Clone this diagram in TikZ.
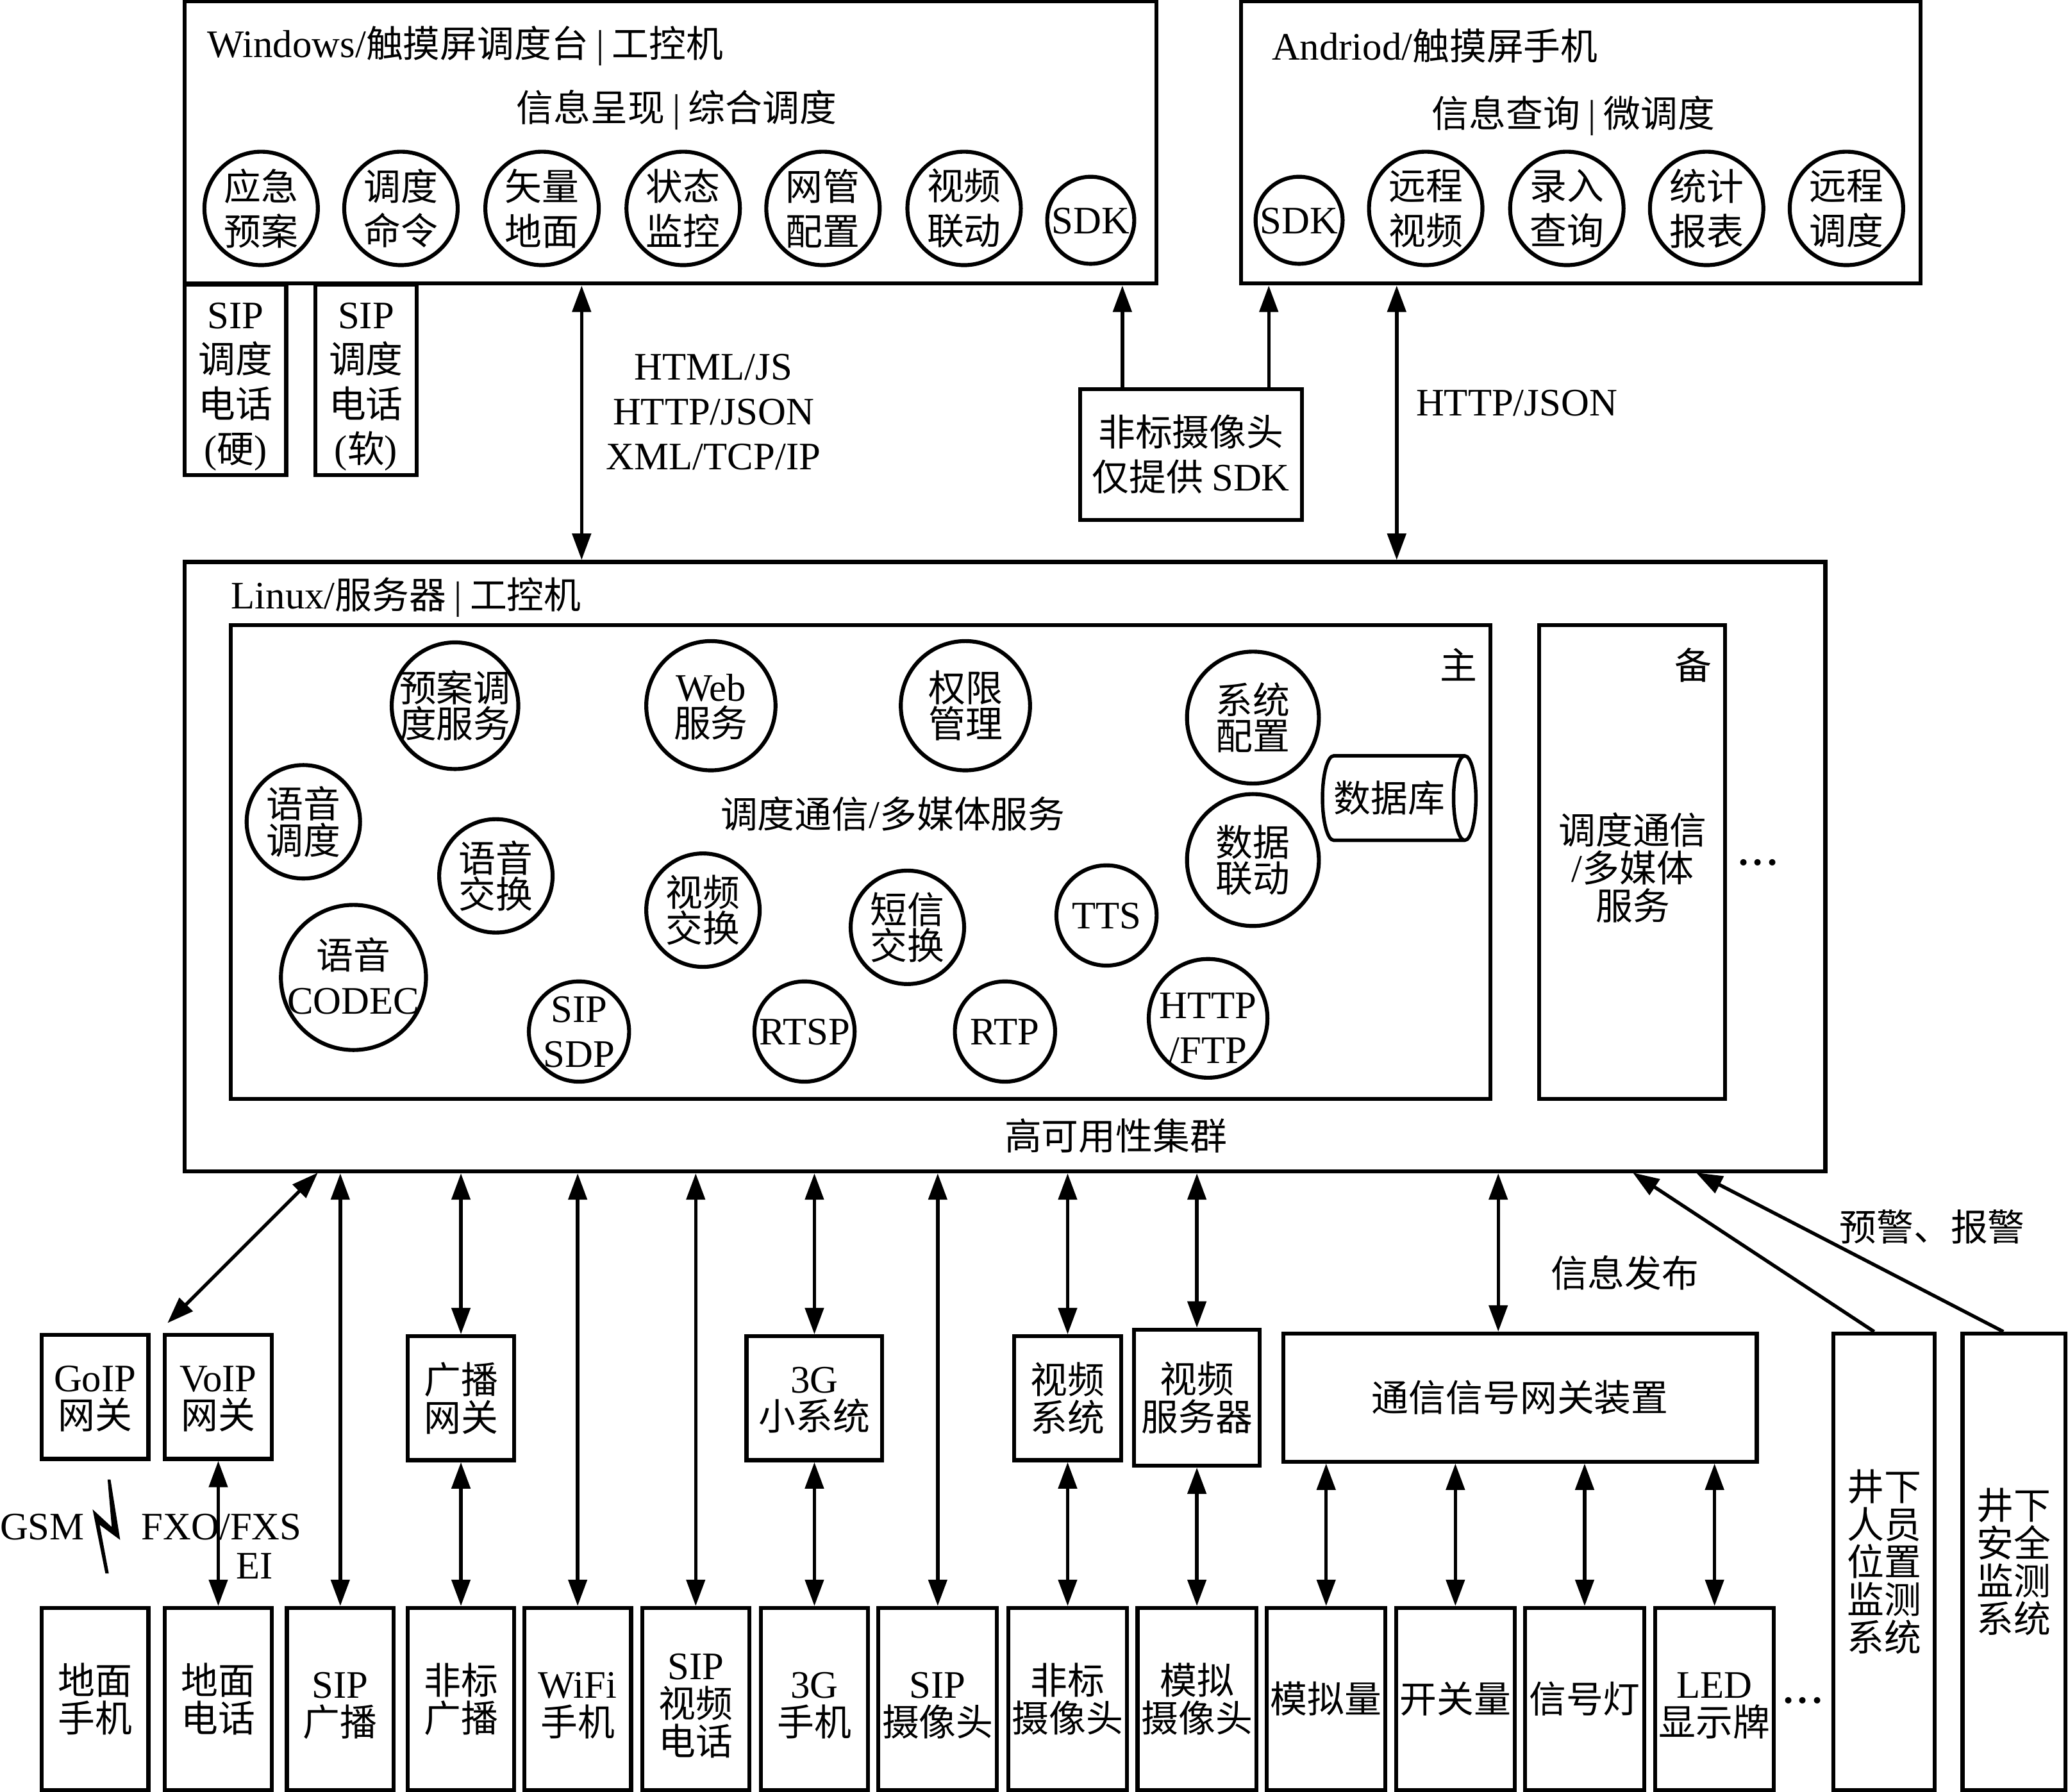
\documentclass[tikz,border=0pt]{standalone}
\usepackage{fontspec}
\setmainfont{Noto Sans CJK SC}
\newfontfamily\enfont[Scale=1.05]{Liberation Serif}
\newcommand{\en}[1]{\vphantom{国}{\enfont #1}}
\newcommand{\vbar}{\hspace{3.4pt}{\enfont|}\hspace{3.4pt}}
\newcommand{\lowered}{\rule{0pt}{17pt}}
\newcommand{\moredots}{{\enfont\bfseries .\kern2pt.\kern2pt.}}
\usetikzlibrary{
    arrows.meta,
    positioning,
    shapes.geometric,
    calc
}
\lineskiplimit=-20pt
\normallineskiplimit=-20pt

\begin{document}
\begin{tikzpicture}[
    x=0.2mm,
    y=-0.2mm,
    every node/.style={
        inner sep=0pt,
        align=center,
        font=\fontsize{16}{16.3}\selectfont
    },
    panel/.style={
        draw,
        line width=1.7pt,
        rectangle
    },
    devbox/.style={
        panel,
        minimum width=16.2mm,
        minimum height=27.6mm
    },
    gatebox/.style={
        panel,
        minimum width=16.2mm,
        minimum height=18.8mm
    },
    func/.style={
        draw,
        line width=1.7pt,
        circle,
        minimum size=17.2mm,
        font=\fontsize{16}{19.3}\selectfont
    },
    svcfunc/.style={
        func,
        font=\fontsize{16}{15.5}\selectfont
    },
    loose/.style={
        font=\fontsize{16}{19.3}\selectfont
    },
    bothway/.style={
        {Triangle[length=4mm,width=2.8mm]}-{Triangle[length=4mm,width=2.8mm]},
        line width=1.5pt
    },
    oneway/.style={
        -{Triangle[length=4mm,width=2.8mm]},
        line width=1.5pt
    }
]
\useasboundingbox (0,0) rectangle (1568,1358.5);

% upper consoles
\node[panel, minimum width=147.4mm, minimum height=42.8mm] (windows) at (508.5,108) {};
\node[panel, minimum width=103mm, minimum height=42.8mm] (android) at (1198.5,108) {};
\node[anchor=west] (wintitle) at (157,35) {\en{Windows/}触摸屏调度台\vbar 工控机};
\node (winsub) at (513,83.5) {信息呈现\vbar 综合调度};
\node[anchor=west] (andtitle) at (964,35) {\en{Andriod/}触摸屏手机};
\node (andsub) at (1193,87.5) {信息查询\vbar 微调度};

\node[func] (plan) at (198,158) {应急\\预案};
\node[func] (order) at (304,158) {调度\\命令};
\node[func] (vector) at (411,158) {矢量\\地面};
\node[func] (state) at (518,158) {状态\\监控};
\node[func] (netcfg) at (624,158) {网管\\配置};
\node[func] (link) at (731,158) {视频\\联动};
\node[func, minimum size=13.2mm] (winsdk) at (827,167) {\en{SDK}};
\node[func, minimum size=13.2mm] (andsdk) at (985,167) {\en{SDK}};
\node[func] (remote) at (1081,158) {远程\\视频};
\node[func] (query) at (1188,158) {录入\\查询};
\node[func] (report) at (1294,158) {统计\\报表};
\node[func] (micro) at (1400,158) {远程\\调度};

\node[panel, loose, minimum width=15.4mm, minimum height=28.8mm] (hardsip) at (178.5,288) {\lowered\en{SIP}\\调度\\电话\\\en{(}硬\en{)}};
\node[panel, loose, minimum width=15.4mm, minimum height=28.8mm] (softsip) at (277.5,288) {\lowered\en{SIP}\\调度\\电话\\\en{(}软\en{)}};
\node[panel, loose, minimum width=33.6mm, minimum height=19.8mm] (camsdk) at (903,344.5) {非标摄像头\\仅提供 \en{SDK}};

\node[loose] (weblabel) at (541,312) {\en{HTML/JS}\\\en{HTTP/JSON}\\\en{XML/TCP/IP}};
\node (jsonlabel) at (1150,305) {\en{HTTP/JSON}};

% server
\node[panel, minimum width=248.8mm, minimum height=92.4mm] (server) at (762,657) {};
\node[anchor=west] (linuxtitle) at (175,453) {\en{Linux/}服务器\vbar 工控机};
\node[panel, minimum width=191mm, minimum height=71.8mm] (master) at (652.5,653.5) {};
\node[panel, minimum width=28.2mm, minimum height=71.8mm] (standby) at (1237.5,653.5) {};
\node (masterlabel) at (1106,504) {主};
\node (standbylabel) at (1284,504) {备};
\node (standbytext) at (1238,658) {调度通信\\\en{/}多媒体\\服务};
\node (standbydots) at (1333,654) {\moredots};
\node (clusterlabel) at (846,861) {高可用性集群};
\node (servicelabel) at (677,617) {调度通信\en{/}多媒体服务};

\node[svcfunc, minimum size=19.2mm, inner sep=-1pt] (plansvc) at (345,535) {预案调\\度服务};
\node[svcfunc, minimum size=19.6mm] (web) at (539,535) {\en{Web}\\服务};
\node[svcfunc, minimum size=19.6mm] (auth) at (732,535) {权限\\管理};
\node[svcfunc, minimum size=20mm] (syscfg) at (950,544) {系统\\配置};
\node[svcfunc, minimum size=20mm] (datalink) at (950,652) {数据\\联动};
\node[svcfunc] (voice) at (230,623) {语音\\调度};
\node[svcfunc] (voicesw) at (376,664) {语音\\交换};
\node[svcfunc] (videosw) at (533,690) {视频\\交换};
\node[svcfunc] (smssw) at (688,703) {短信\\交换};
\node[func, minimum size=15.2mm] (tts) at (839,694) {\en{TTS}};
\node[func, minimum size=22mm, inner sep=-1.8pt] (codec) at (268,741) {语音\\\en{CODEC}};
\node[func, minimum size=15.2mm, inner sep=-2pt] (sdp) at (439,782) {\en{SIP}\\\en{SDP}};
\node[func, minimum size=15.2mm] (rtsp) at (610,782) {\en{RTSP}};
\node[func, minimum size=15.2mm] (rtp) at (762,782) {\en{RTP}};
\node[func, minimum size=18mm, inner sep=-4pt] (ftp) at (916,772) {\rule{0pt}{20.8pt}\en{HTTP}\\\en{/FTP}};
\node[
    draw,
    line width=1.5pt,
    cylinder,
    aspect=0.65,
    minimum width=12.8mm,
    minimum height=20.8mm
] (database) at (1056,605) {数据库\hspace{3pt}};

% gateways
\node[gatebox] (goip) at (72,1059) {\en{GoIP}\\网关};
\node[gatebox] (voip) at (165.5,1059) {\en{VoIP}\\网关};
\node[gatebox] (bcgate) at (349.5,1060) {广播\\网关};
\node[gatebox, minimum width=20.6mm] (small3g) at (617.5,1060) {\en{3G}\\小系统};
\node[gatebox] (videosys) at (809.5,1060) {视频\\系统};
\node[gatebox, minimum width=19mm, minimum height=20.6mm] (videosrv) at (907.5,1059.5) {视频\\服务器};
\node[panel, minimum width=71.8mm, minimum height=19.4mm] (siggate) at (1152.5,1059.5) {通信信号网关装置};

% devices
\node[devbox] (gsmphone) at (72,1288) {地面\\手机};
\node[devbox] (landline) at (165.5,1288) {地面\\电话};
\node[devbox] (sipbc) at (258,1288) {\lowered\en{SIP}\\广播};
\node[devbox] (nonbc) at (349.5,1288) {非标\\广播};
\node[devbox] (wifi) at (438,1288) {\lowered\en{WiFi}\\手机};
\node[devbox] (sipvideo) at (527.5,1288) {\lowered\en{SIP}\\视频\\电话};
\node[devbox] (phone3g) at (617.5,1288) {\lowered\en{3G}\\手机};
\node[devbox, minimum width=18mm] (sipcam) at (711,1288) {\lowered\en{SIP}\\摄像头};
\node[devbox, minimum width=18mm] (noncam) at (809.5,1288) {非标\\摄像头};
\node[devbox, minimum width=18mm] (anacam) at (907.5,1288) {模拟\\摄像头};
\node[devbox, minimum width=18mm] (analog) at (1005.5,1288) {模拟量};
\node[devbox, minimum width=18mm] (switch) at (1103.5,1288) {开关量};
\node[devbox, minimum width=18mm] (signal) at (1201.5,1288) {信号灯};
\node[devbox, minimum width=18mm] (led) at (1300,1288) {\lowered\en{LED}\\显示牌};
\node (devdots) at (1367,1289) {\moredots};
\node[panel, minimum width=15.4mm, minimum height=69.2mm] (person) at (1428.5,1184) {井下\\人员\\位置\\监测\\系统};
\node[panel, minimum width=15.6mm, minimum height=69.2mm] (safety) at (1527,1184) {井下\\安全\\监测\\系统};

% labels
\node (publabel) at (1232,965) {信息发布};
\node (alarmlabel) at (1465,930) {预警、报警};
\node (gsmlabel) at (32,1157) {\en{GSM}};
\node (fxolabel) at (168,1157) {\en{FXO/FXS}};
\node (eilabel) at (193,1187) {\en{EI}};

% radio link
\fill (81.6,1121.6) -- (83.8,1121.6) -- (91.1,1167.4) -- (75.6,1156) -- (82.5,1192.8)
    -- (79.9,1192.8) -- (70.2,1144.2) -- (84.7,1157.6) -- cycle;

% ports
\coordinate (webport) at (441,0);
\coordinate (jsonport) at (1059,0);
\coordinate (sdkleft) at (851,0);
\coordinate (sdkright) at (962,0);
\coordinate (voipup) at (241,889);
\coordinate (voipdown) at (127,1003);
\coordinate (personport) at (1421,0);
\coordinate (safetyport) at (1519,0);
\coordinate (persontip) at (1238,889);
\coordinate (safetytip) at (1286,889);
\coordinate (pubport) at (1136,0);

\draw[bothway] (windows.south -| webport) -- (server.north -| webport);
\draw[bothway] (android.south -| jsonport) -- (server.north -| jsonport);
\draw[oneway] (camsdk.north -| sdkleft) -- (windows.south -| sdkleft);
\draw[oneway] (camsdk.north -| sdkright) -- (android.south -| sdkright);

\draw[bothway] (voipup) -- (voipdown);
\draw[bothway] (sipbc.north) -- (server.south -| sipbc.north);
\draw[bothway] (bcgate.north) -- (server.south -| bcgate.north);
\draw[bothway] (wifi.north) -- (server.south -| wifi.north);
\draw[bothway] (sipvideo.north) -- (server.south -| sipvideo.north);
\draw[bothway] (small3g.north) -- (server.south -| small3g.north);
\draw[bothway] (sipcam.north) -- (server.south -| sipcam.north);
\draw[bothway] (videosys.north) -- (server.south -| videosys.north);
\draw[bothway] (videosrv.north) -- (server.south -| videosrv.north);
\draw[bothway] (siggate.north -| pubport) -- (server.south -| pubport);

\draw[bothway] (voip) -- (landline);
\draw[bothway] (bcgate) -- (nonbc);
\draw[bothway] (small3g) -- (phone3g);
\draw[bothway] (videosys) -- (noncam);
\draw[bothway] (videosrv) -- (anacam);
\draw[bothway] (analog.north) -- (siggate.south -| analog.north);
\draw[bothway] (switch.north) -- (siggate.south -| switch.north);
\draw[bothway] (signal.north) -- (siggate.south -| signal.north);
\draw[bothway] (led.north) -- (siggate.south -| led.north);

\draw[oneway] (person.north -| personport) -- (persontip);
\draw[oneway] (safety.north -| safetyport) -- (safetytip);

\end{tikzpicture}
\end{document}
